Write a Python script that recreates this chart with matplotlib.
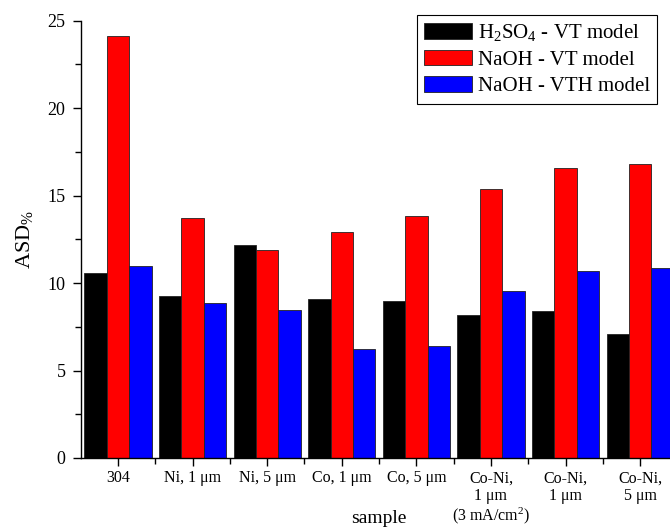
import matplotlib
matplotlib.use('Agg')
import matplotlib.pyplot as plt
import numpy as np
from matplotlib.ticker import MultipleLocator

plt.rcParams['font.family'] = ['Liberation Serif', 'DejaVu Serif']
plt.rcParams['mathtext.default'] = 'regular'

# Data
samples = ['304', 'Ni, 1 \u03bcm', 'Ni, 5 \u03bcm', 'Co, 1 \u03bcm', 'Co, 5 \u03bcm',
           'Co-Ni,\n1 \u03bcm\n(3 mA/cm$^2$)', 'Co-Ni,\n1 \u03bcm', 'Co-Ni,\n5 \u03bcm']
h2so4_vt = [10.55, 9.28, 12.15, 9.07, 8.95, 8.17, 8.38, 7.09]
naoh_vt = [24.15, 13.73, 11.87, 12.91, 13.85, 15.35, 16.57, 16.78]
naoh_vth = [11.0, 8.86, 8.46, 6.21, 6.42, 9.54, 10.70, 10.84]

series_labels = ['H$_2$SO$_4$ - VT model', 'NaOH - VT model', 'NaOH - VTH model']
series_colors = ['#000000', '#ff0000', '#0000ff']

fig = plt.figure(figsize=(6.7, 5.31), dpi=100)
ax = fig.add_axes([0.1204, 0.1375, 0.8907, 0.8235])

x = np.arange(len(samples))
width = 0.3
for i, (vals, lab, col) in enumerate(zip([h2so4_vt, naoh_vt, naoh_vth], series_labels, series_colors)):
    ax.bar(x + (i - 1) * width, vals, width, color=col, label=lab,
           edgecolor='#222222', linewidth=0.6)

ax.set_xlim(-0.5, 7.5)
ax.set_ylim(0, 25)

ax.yaxis.set_major_locator(MultipleLocator(5))
ax.yaxis.set_minor_locator(MultipleLocator(2.5))
ax.set_xticks(x)
ax.set_xticklabels(samples, fontsize=11.5, linespacing=1.12)
ax.set_xticks(x[:-1] + 0.5, minor=True)
ax.tick_params(axis='both', which='major', direction='out', length=6, width=1)
ax.tick_params(axis='both', which='minor', direction='out', length=4, width=1)
ax.tick_params(axis='x', which='major', pad=3)
ax.tick_params(axis='y', labelsize=13, pad=5)

for side in ['top', 'right']:
    ax.spines[side].set_visible(False)
for side in ['left', 'bottom']:
    ax.spines[side].set_linewidth(1)

ax.set_ylabel('ASD$_{\\%}$', fontsize=16, labelpad=9)
ax.set_xlabel('sample', fontsize=14)
ax.xaxis.set_label_coords(0.5, -0.118)

leg = ax.legend(loc='upper right', bbox_to_anchor=(657 / 670, 1 - 15 / 531),
                bbox_transform=fig.transFigure, borderaxespad=0, fontsize=15,
                handlelength=2.3, handleheight=0.8, handletextpad=0.25,
                labelspacing=0.3, fancybox=False, framealpha=1,
                edgecolor='black', borderpad=0.35)
leg.get_frame().set_linewidth(0.8)

fig.savefig('out.png', dpi=100)
